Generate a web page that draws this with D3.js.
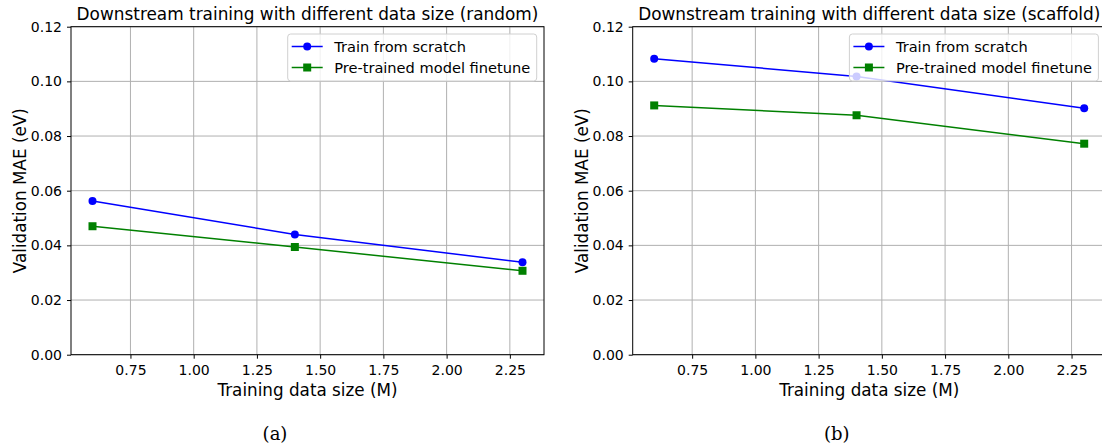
<!DOCTYPE html>
<html>
<head>
<meta charset="utf-8">
<script src="https://cdn.jsdelivr.net/npm/d3@7"></script>
<style>
  body { margin: 0; background: #fff; }
  svg text { font-family: "DejaVu Sans", sans-serif; fill: #000; }
</style>
</head>
<body>
<div id="chart"></div>
<script>
// 数据
const dataSizes = [0.6, 1.4, 2.3];
const seriesNames = ["Train from scratch", "Pre-trained model finetune"];
const randomScratch = [0.0562, 0.0440, 0.0338];
const randomFinetune = [0.0470, 0.0394, 0.0307];
const scaffoldScratch = [0.1083, 0.1018, 0.0902];
const scaffoldFinetune = [0.0912, 0.0876, 0.0772];
const xTicks = [0.75, 1.00, 1.25, 1.50, 1.75, 2.00, 2.25];
const yTicks = [0.00, 0.02, 0.04, 0.06, 0.08, 0.10, 0.12];
const titles = [
  "Downstream training with different data size (random)",
  "Downstream training with different data size (scaffold)"
];
const captions = ["(a)", "(b)"];

const width = 1102, height = 448;

const svg = d3.select("#chart")
  .append("svg")
  .attr("width", width)
  .attr("height", height);

// 两个子图的绘图区
const panels = [
  { left: 71, scratch: randomScratch, finetune: randomFinetune },
  { left: 632.7, scratch: scaffoldScratch, finetune: scaffoldFinetune }
];
const plotW = 473, plotTop = 26.7, plotBottom = 354.7;

const xPad = (d3.max(dataSizes) - d3.min(dataSizes)) * 0.05;

panels.forEach(function (p, k) {
  const x = d3.scaleLinear()
    .domain([d3.min(dataSizes) - xPad, d3.max(dataSizes) + xPad])
    .range([p.left, p.left + plotW]);
  const y = d3.scaleLinear()
    .domain([0, 0.12])
    .range([plotBottom, plotTop]);

  const g = svg.append("g");

  // 网格
  g.selectAll(".vgrid").data(xTicks).enter().append("line")
    .attr("x1", d => x(d)).attr("x2", d => x(d))
    .attr("y1", plotTop).attr("y2", plotBottom)
    .attr("stroke", "#b0b0b0").attr("stroke-width", 1);
  g.selectAll(".hgrid").data(yTicks).enter().append("line")
    .attr("x1", p.left).attr("x2", p.left + plotW)
    .attr("y1", d => y(d)).attr("y2", d => y(d))
    .attr("stroke", "#b0b0b0").attr("stroke-width", 1);

  // 坐标轴
  const xAxis = g.append("g")
    .attr("transform", "translate(0," + plotBottom + ")")
    .call(d3.axisBottom(x).tickValues(xTicks).tickFormat(d3.format(".2f")).tickSize(4).tickPadding(6.5));
  const yAxis = g.append("g")
    .attr("transform", "translate(" + p.left + ",0)")
    .call(d3.axisLeft(y).tickValues(yTicks).tickFormat(d3.format(".2f")).tickSize(4).tickPadding(5));
  [xAxis, yAxis].forEach(function (a) {
    a.select(".domain").remove();
    a.selectAll("line").attr("stroke", "#000").attr("stroke-width", 1);
    a.selectAll("text").style("font-size", "14px").attr("fill", "#000");
  });

  // 边框
  g.append("rect")
    .attr("x", p.left).attr("y", plotTop)
    .attr("width", plotW).attr("height", plotBottom - plotTop)
    .attr("fill", "none").attr("stroke", "#000").attr("stroke-width", 1);

  const line = d3.line()
    .x((d, i) => x(dataSizes[i]))
    .y(d => y(d));

  // 折线
  g.append("path").datum(p.scratch)
    .attr("d", line).attr("fill", "none")
    .attr("stroke", "blue").attr("stroke-width", 1.5);
  g.selectAll(".pt1").data(p.scratch).enter().append("circle")
    .attr("cx", (d, i) => x(dataSizes[i])).attr("cy", d => y(d))
    .attr("r", 4).attr("fill", "blue");

  g.append("path").datum(p.finetune)
    .attr("d", line).attr("fill", "none")
    .attr("stroke", "green").attr("stroke-width", 1.5);
  g.selectAll(".pt2").data(p.finetune).enter().append("rect")
    .attr("x", (d, i) => x(dataSizes[i]) - 4).attr("y", d => y(d) - 4)
    .attr("width", 8).attr("height", 8).attr("fill", "green");

  // 标题和轴标签
  const cx = p.left + plotW / 2;
  g.append("text")
    .attr("x", cx).attr("y", 19.7)
    .attr("text-anchor", "middle")
    .style("font-size", "16.9px")
    .text(titles[k]);
  g.append("text")
    .attr("x", cx).attr("y", 396)
    .attr("text-anchor", "middle")
    .style("font-size", "16.8px")
    .text("Training data size (M)");
  g.append("text")
    .attr("transform", "translate(" + (p.left - 45) + "," + (plotTop + plotBottom) / 2 + ") rotate(-90)")
    .attr("text-anchor", "middle")
    .style("font-size", "16.8px")
    .text("Validation MAE (eV)");
  g.append("text")
    .attr("x", p.left + 204).attr("y", 440)
    .attr("text-anchor", "middle")
    .style("font-family", "'DejaVu Serif', 'Liberation Serif', serif")
    .style("font-size", "18px")
    .text(captions[k]);

  // 图例
  const lw = 249, lh = 47;
  const lx = p.left + plotW - 7.3 - lw, ly = plotTop + 7.3;
  const leg = g.append("g");
  leg.append("rect")
    .attr("x", lx).attr("y", ly).attr("width", lw).attr("height", lh)
    .attr("rx", 3)
    .attr("fill", "#fff").attr("fill-opacity", 0.8)
    .attr("stroke", "#d0d0d0").attr("stroke-width", 1);
  seriesNames.forEach(function (name, j) {
    const ry = ly + 12.5 + j * 21;
    const col = j === 0 ? "blue" : "green";
    leg.append("line")
      .attr("x1", lx + 4).attr("x2", lx + 35)
      .attr("y1", ry).attr("y2", ry)
      .attr("stroke", col).attr("stroke-width", 1.5);
    if (j === 0) {
      leg.append("circle").attr("cx", lx + 19.5).attr("cy", ry).attr("r", 4).attr("fill", col);
    } else {
      leg.append("rect").attr("x", lx + 15.5).attr("y", ry - 4).attr("width", 8).attr("height", 8).attr("fill", col);
    }
    leg.append("text")
      .attr("x", lx + 46.5).attr("y", ry + 5.2)
      .style("font-size", "14.6px")
      .text(name);
  });
});
</script>
</body>
</html>
